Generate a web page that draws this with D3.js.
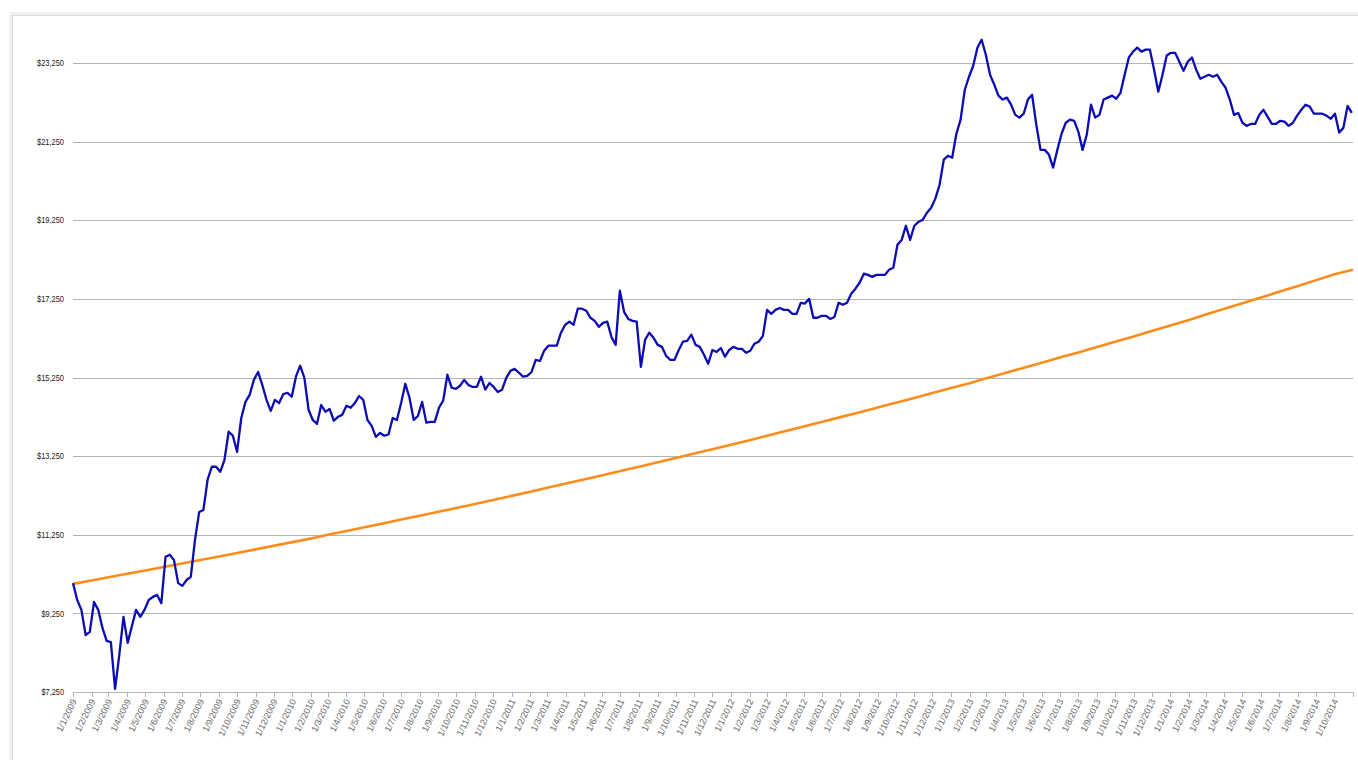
<!DOCTYPE html>
<html>
<head>
<meta charset="utf-8">
<script src="https://cdn.jsdelivr.net/npm/d3@7"></script>
<style>
  html, body { margin: 0; padding: 0; background: #fff; }
  svg { display: block; }
  .ylab { font-family: "Liberation Sans", Arial, sans-serif; font-size: 9px; fill: #222; }
  .xlab { font-family: "Liberation Sans", Arial, sans-serif; font-size: 9px; fill: #666; }
</style>
</head>
<body>
<svg id="chart" width="1358" height="760"></svg>
<script>
// weekly portfolio value, first week of Jan 2009 onwards
const portfolio = [
  10020, 9590, 9340, 8700, 8780, 9540, 9340, 8880, 8550, 8520,
  7330, 8190, 9160, 8500, 8930, 9340, 9160, 9340, 9590, 9670,
  9720, 9510, 10690, 10740, 10610, 10020, 9950, 10100, 10180, 11120,
  11830, 11880, 12650, 12980, 12980, 12850, 13150, 13870, 13770, 13360,
  14220, 14630, 14810, 15190, 15390, 15060, 14680, 14400, 14680, 14600,
  14830, 14860, 14760, 15270, 15550, 15240, 14430, 14170, 14070, 14550,
  14380, 14450, 14150, 14250, 14300, 14530, 14480, 14600, 14780, 14680,
  14170, 14020, 13740, 13840, 13770, 13800, 14220, 14170, 14600, 15090,
  14730, 14170, 14270, 14630, 14100, 14120, 14120, 14480, 14660, 15320,
  14990, 14960, 15040, 15190, 15060, 15010, 15010, 15270, 14940, 15110,
  15010, 14880, 14940, 15240, 15420, 15470, 15370, 15270, 15290, 15390,
  15700, 15670, 15930, 16060, 16060, 16060, 16390, 16590, 16670, 16590,
  17000, 17000, 16950, 16770, 16690, 16540, 16640, 16670, 16280, 16080,
  17460, 16920, 16740, 16690, 16670, 15520, 16210, 16390, 16260, 16080,
  16030, 15800, 15700, 15700, 15950, 16160, 16180, 16340, 16080, 16030,
  15830, 15600, 15950, 15900, 16000, 15780, 15950, 16030, 15980, 15980,
  15880, 15930, 16110, 16160, 16310, 16970, 16870, 16970, 17020, 16970,
  16970, 16870, 16870, 17150, 17130, 17250, 16770, 16770, 16820, 16820,
  16740, 16790, 17150, 17100, 17150, 17380, 17510, 17660, 17890, 17860,
  17810, 17860, 17860, 17860, 17990, 18040, 18630, 18750, 19110, 18750,
  19110, 19210, 19260, 19440, 19570, 19800, 20150, 20790, 20890, 20840,
  21450, 21810, 22570, 22900, 23180, 23640, 23840, 23460, 22950, 22700,
  22420, 22320, 22370, 22190, 21930, 21860, 21960, 22320, 22440, 21680,
  21040, 21040, 20920, 20590, 21040, 21450, 21730, 21810, 21780, 21500,
  21040, 21430, 22190, 21860, 21930, 22320, 22370, 22420, 22340, 22490,
  22950, 23390, 23540, 23640, 23540, 23590, 23590, 23080, 22520, 22950,
  23440, 23510, 23510, 23280, 23050, 23280, 23390, 23080, 22850, 22900,
  22950, 22900, 22950, 22770, 22620, 22320, 21930, 21980, 21730, 21650,
  21700, 21700, 21930, 22060, 21880, 21700, 21700, 21780, 21760, 21650,
  21730, 21910, 22060, 22190, 22140, 21960, 21960, 21960, 21910, 21830,
  21960, 21480, 21600, 22160, 21980
];

// monthly benchmark value, Jan 2009 .. Nov 2014
const benchmark = [
  10000, 10085, 10170, 10256, 10343, 10430, 10518, 10607, 10697, 10787,
  10878, 10970, 11063, 11156, 11251, 11346, 11442, 11538, 11636, 11734,
  11833, 11933, 12034, 12136, 12239, 12342, 12447, 12552, 12658, 12765,
  12873, 12982, 13092, 13202, 13314, 13427, 13540, 13655, 13770, 13887,
  14004, 14123, 14242, 14362, 14484, 14606, 14730, 14854, 14980, 15106,
  15234, 15363, 15493, 15624, 15756, 15889, 16023, 16159, 16295, 16433,
  16572, 16712, 16853, 16996, 17139, 17284, 17430, 17578, 17727, 17876,
  17990
];

const yTicks = [7250, 9250, 11250, 13250, 15250, 17250, 19250, 21250, 23250];

const startDate = new Date(2009, 0, 1);
const endDate = new Date(2014, 10, 1);

const svg = d3.select('#chart');

// frame round the chart
svg.append('rect')
  .attr('x', 10.5).attr('y', 13.5)
  .attr('width', 1400).attr('height', 800)
  .attr('fill', 'none').attr('stroke', '#f0f0f0').attr('stroke-width', 3);
svg.append('rect')
  .attr('x', 12.5).attr('y', 15.5)
  .attr('width', 1400).attr('height', 800)
  .attr('fill', '#fff').attr('stroke', '#dcdcdc');

const x = d3.scaleTime().domain([startDate, endDate]).range([73, 1353]);
const y = d3.scaleLinear().domain([7250, 23250]).range([692, 63]);

// gridlines + y labels
svg.append('g')
  .selectAll('line')
  .data(yTicks.slice(1))
  .join('line')
  .attr('x1', 73).attr('x2', 1353)
  .attr('y1', d => Math.round(y(d)) + 0.5)
  .attr('y2', d => Math.round(y(d)) + 0.5)
  .attr('stroke', '#b4b4b4');

// labels in the original are squeezed a bit narrower than the font
svg.append('g')
  .selectAll('text')
  .data(yTicks)
  .join('text')
  .attr('class', 'ylab')
  .attr('x', 64)
  .attr('y', d => y(d))
  .attr('dy', '0.35em')
  .attr('text-anchor', 'end')
  .attr('textLength', d => d >= 10000 ? 27 : 22.5)
  .attr('lengthAdjust', 'spacingAndGlyphs')
  .text(d3.format('$,'));

// x axis
const months = d3.timeMonth.range(startDate, d3.timeMonth.offset(endDate, 1));
const xAxis = svg.append('g');
xAxis.append('line')
  .attr('x1', 73).attr('x2', 1353)
  .attr('y1', 692.5).attr('y2', 692.5)
  .attr('stroke', '#b4b4b4');
xAxis.selectAll('line.tick')
  .data(months)
  .join('line')
  .attr('class', 'tick')
  .attr('x1', d => Math.round(x(d)) + 0.5)
  .attr('x2', d => Math.round(x(d)) + 0.5)
  .attr('y1', 692).attr('y2', 697)
  .attr('stroke', '#b4b4b4');
xAxis.selectAll('text')
  .data(months.slice(0, -1))
  .join('text')
  .attr('class', 'xlab')
  .attr('text-anchor', 'end')
  .attr('transform', d => `translate(${x(d) + 4},${701}) rotate(-64)`)
  .text(d => `1/${d.getMonth() + 1}/${d.getFullYear()}`);

// series
const weekly = portfolio.map((v, i) => ({ date: d3.timeDay.offset(startDate, i * 7), value: v }));
const monthly = benchmark.map((v, i) => ({ date: d3.timeMonth.offset(startDate, i), value: v }));

const line = d3.line().x(d => x(d.date)).y(d => y(d.value));

svg.append('path')
  .datum(monthly)
  .attr('fill', 'none')
  .attr('stroke', '#ff8c1a')
  .attr('stroke-width', 2.6)
  .attr('d', line);

svg.append('path')
  .datum(weekly)
  .attr('fill', 'none')
  .attr('stroke', '#0c0cb4')
  .attr('stroke-width', 2.3)
  .attr('stroke-linejoin', 'round')
  .attr('d', line);
</script>
</body>
</html>
